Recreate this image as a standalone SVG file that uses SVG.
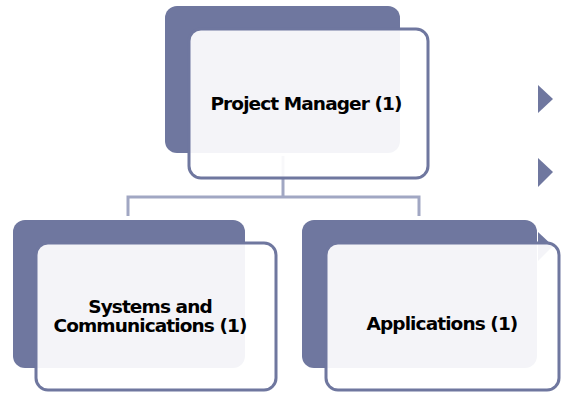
<svg xmlns="http://www.w3.org/2000/svg" width="561" height="397" viewBox="0 0 561 397">
<style>
.back{fill:#6f779f}
.front{fill:#ffffff;fill-opacity:0.92;stroke:#6f779f;stroke-width:3}
.lbl{font-family:"DejaVu Sans",sans-serif;font-weight:bold;font-size:18.5px;fill:#000;text-anchor:middle;letter-spacing:-0.9px}
.conn{fill:none;stroke:#a1a7c3;stroke-width:3}
.tri{fill:#6f779f}
</style>
<rect width="561" height="397" fill="#ffffff"/>
<g id="bullets">
<polygon class="tri" points="538,85 553,99 538,113"/>
<polygon class="tri" points="538,158 553,172 538,187"/>
<polygon class="tri" points="538,232 553,246 538,261"/>
</g>
<g id="connectors">
<path class="conn" d="M283,156 V197 M128,216 V197 H419 V216"/>
</g>
<g id="node-pm">
<rect class="back" x="165" y="6" width="235" height="147" rx="12"/>
<rect class="front" x="189" y="29" width="239" height="149" rx="12"/>
<text class="lbl" x="306" y="110">Project Manager (1)</text>
</g>
<g id="node-sys">
<rect class="back" x="13" y="220" width="232" height="148" rx="12"/>
<rect class="front" x="36" y="243" width="240" height="147" rx="12"/>
<text class="lbl" x="150" y="313">Systems and</text>
<text class="lbl" x="150" y="332">Communications (1)</text>
</g>
<g id="node-app">
<rect class="back" x="302" y="220" width="235" height="148" rx="12"/>
<rect class="front" x="326" y="243" width="233" height="147" rx="12"/>
<text class="lbl" x="442" y="330">Applications (1)</text>
</g>
</svg>
